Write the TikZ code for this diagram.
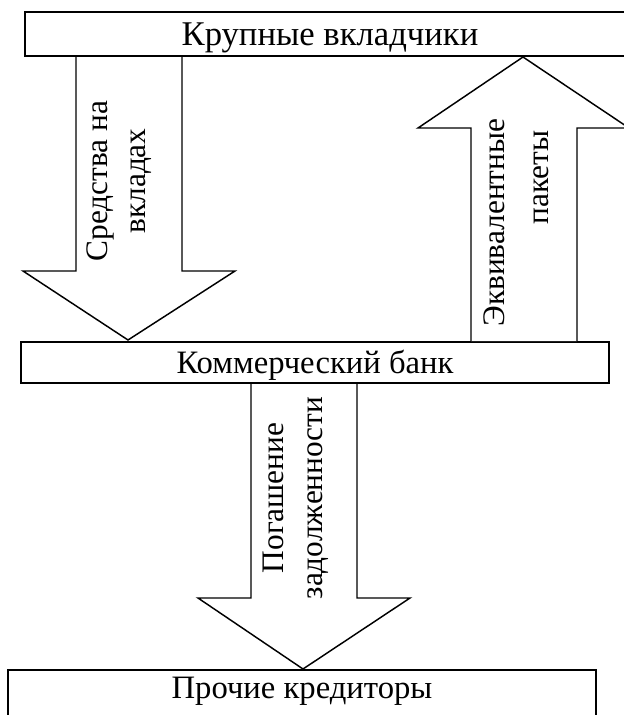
\documentclass[tikz,border=0pt]{standalone}
\usepackage{fontspec}
\setmainfont{Liberation Serif}
\usetikzlibrary{positioning}

\begin{document}
\begin{tikzpicture}[x=0.75pt,y=-0.75pt,line width=1.1pt,
    boxline/.style={draw,fill=white},
    blockarrow/.style={draw,fill=white,line join=miter},
    caption/.style={inner sep=0pt,anchor=base,font=\fontsize{24.5}{29}\selectfont},
    vcaption/.style={inner sep=0pt,rotate=90,align=center,font=\fontsize{23.5}{28}\selectfont}]

    \useasboundingbox (0,0) rectangle (624,715);
    \clip (0,0) rectangle (624,715);

    % The boxes
    \draw[boxline] (25,12) rectangle (635,56);
    \draw[boxline] (21,342) rectangle (609,383);
    \draw[boxline] (8,670) rectangle (596,740);

    \node [caption,font=\fontsize{26}{30}\selectfont] at (330,45) (vkl) {Крупные вкладчики};
    \node [caption] at (315,373) (bank) {Коммерческий банк};
    \node [caption] at (302,698) (kred) {Прочие кредиторы};

    % Block arrows
    \draw[blockarrow] (76,57) -- (76,271) -- (23,271) -- (128,340)
        -- (235,271) -- (182,271) -- (182,57);
    \draw[blockarrow] (471,341) -- (471,128) -- (418,128) -- (523,57)
        -- (629,128) -- (577,128) -- (577,341);
    \draw[blockarrow] (251,384) -- (251,598) -- (198,598) -- (303,669)
        -- (410,598) -- (357,598) -- (357,384);

    % Arrow texts
    \node [vcaption] at (119,181) (sredstva) {Средства на\\вкладах};
    \node [vcaption,align=right,anchor=east,
        font=\fontsize{23.5}{33}\selectfont] at (516,118) (ekviv) {Эквивалентные\\пакеты\hspace*{9pt}};
    \node [vcaption,font=\fontsize{23.5}{29}\selectfont] at (296,498) (pogash) {Погашение\\задолженности};

\end{tikzpicture}
\end{document}
